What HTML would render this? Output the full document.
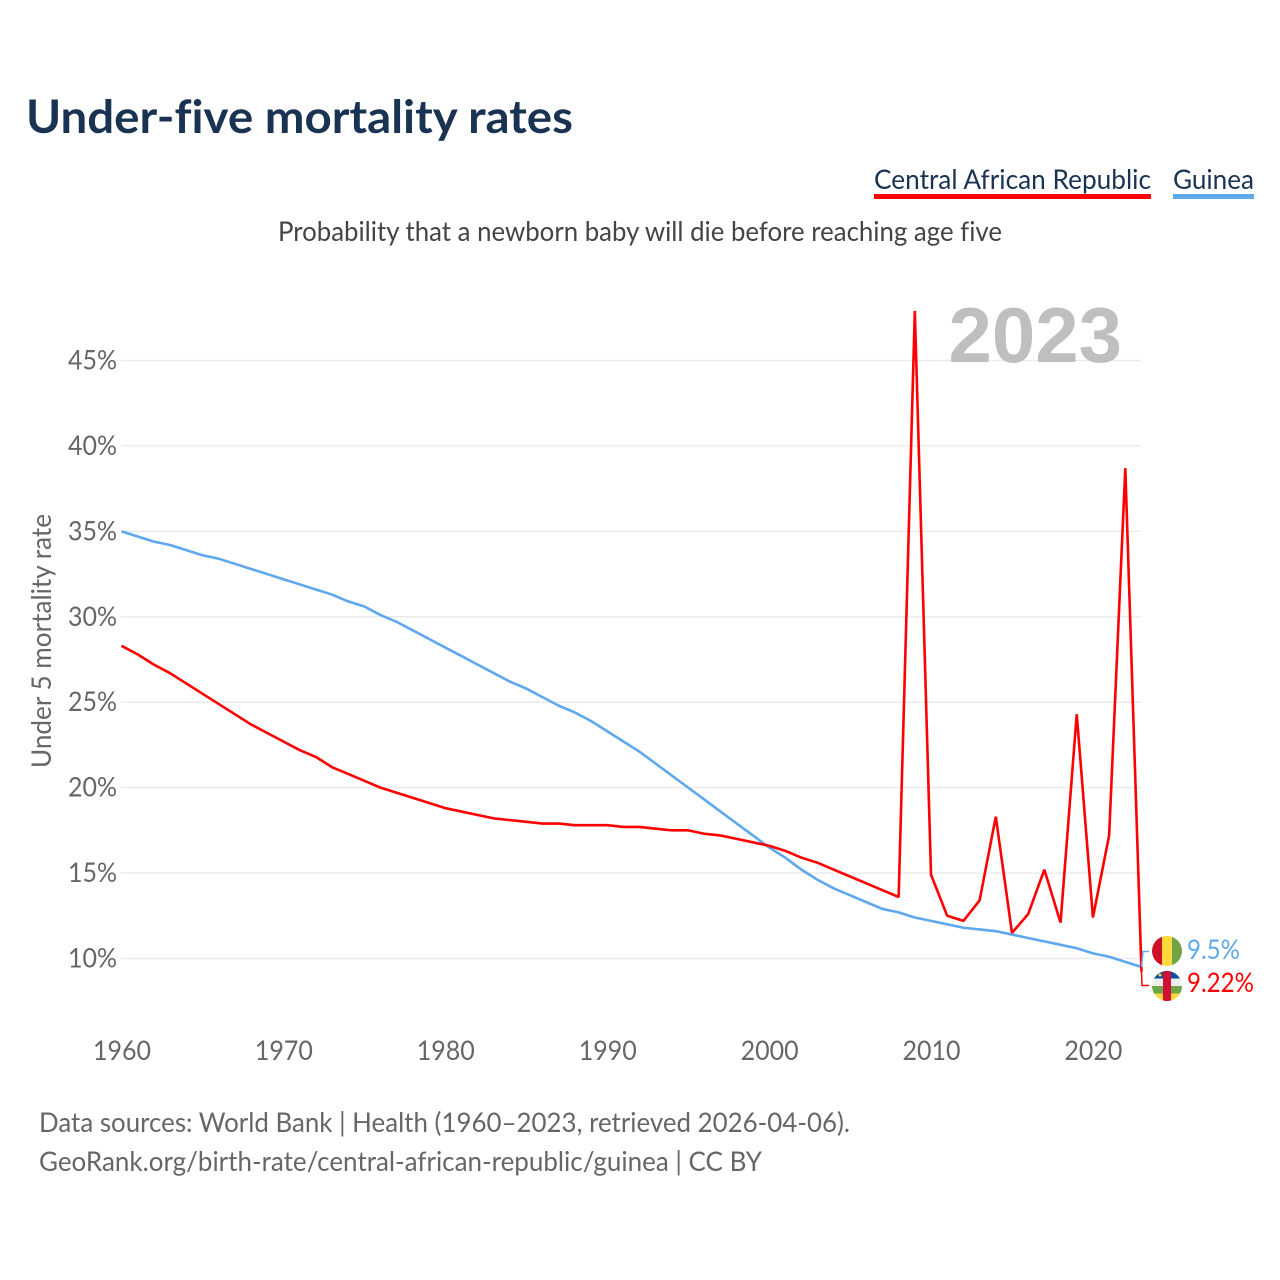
<!DOCTYPE html>
<html lang="en">
<head>
<meta charset="utf-8">
<title>Under-five mortality rates</title>
<style>
html,body{margin:0;padding:0;background:#fff;width:1280px;height:1280px;overflow:hidden}
svg{display:block;font-family:"Lato","Carlito","Liberation Sans",sans-serif;font-variant-ligatures:none;font-feature-settings:"liga" 0}
</style>
</head>
<body>
<svg id="chart" width="1280" height="1280" viewBox="0 0 1280 1280" xmlns="http://www.w3.org/2000/svg">
  <defs>
    <clipPath id="clip-gn"><circle cx="1167" cy="951" r="15"/></clipPath>
    <clipPath id="clip-cf"><circle cx="1167" cy="986" r="15"/></clipPath>
  </defs>
  <text x="26" y="133" font-size="46" font-weight="700" fill="#1a3353" textLength="547" lengthAdjust="spacingAndGlyphs">Under-five mortality rates</text>
  <g>
    <text x="874" y="189" font-size="27" fill="#1a3353" textLength="277" lengthAdjust="spacingAndGlyphs">Central African Republic</text>
    <rect x="874" y="194" width="277" height="5" fill="#ff0000"/>
  </g>
  <g>
    <text x="1173" y="189" font-size="27" fill="#1a3353" textLength="81" lengthAdjust="spacingAndGlyphs">Guinea</text>
    <rect x="1173" y="194" width="81" height="5" fill="#5fa8ee"/>
  </g>
  <text x="278" y="241" font-size="27" fill="#444" textLength="724" lengthAdjust="spacingAndGlyphs">Probability that a newborn baby will die before reaching age five</text>
  <g id="grid"></g>
  <g id="yticks"></g>
  <g id="xticks"></g>
  <text transform="translate(51,641) rotate(-90)" text-anchor="middle" font-size="27" fill="#666" textLength="254" lengthAdjust="spacingAndGlyphs">Under 5 mortality rate</text>
  <text x="1122" y="362" text-anchor="end" font-family="'Liberation Sans',sans-serif" font-size="78" font-weight="700" fill="#bfbfbf">2023</text>
  <g id="series"></g>
  <g id="connectors"></g>
  <g clip-path="url(#clip-gn)">
    <rect x="1152" y="936" width="10" height="30" fill="#ce1126"/>
    <rect x="1162" y="936" width="10" height="30" fill="#ffd83d"/>
    <rect x="1172" y="936" width="10" height="30" fill="#6fa544"/>
  </g>
  <g clip-path="url(#clip-cf)">
    <rect x="1152" y="971" width="30" height="7.5" fill="#0b4ea2"/>
    <rect x="1152" y="978.500" width="30" height="7.500" fill="#eeeeee"/>
    <rect x="1152" y="986" width="30" height="7.500" fill="#6fa544"/>
    <rect x="1152" y="993.500" width="30" height="7.500" fill="#ffd83d"/>
    <rect x="1163" y="971" width="8" height="30" fill="#d21034"/>
    <circle cx="1160" cy="975" r="1.500" fill="#ffd83d"/>
  </g>
  <text id="label-gn" x="1187" y="959" font-size="27" fill="#5fa8ee" textLength="53" lengthAdjust="spacingAndGlyphs"></text>
  <text id="label-cf" x="1187" y="992" font-size="27" fill="#ff0000" textLength="67" lengthAdjust="spacingAndGlyphs"></text>
  <text x="39" y="1132" font-size="27" fill="#666" textLength="811" lengthAdjust="spacingAndGlyphs">Data sources: World Bank | Health (1960–2023, retrieved 2026-04-06).</text>
  <text x="39" y="1171" font-size="27" fill="#666" textLength="723" lengthAdjust="spacingAndGlyphs">GeoRank.org/birth-rate/central-african-republic/guinea | CC BY</text>
</svg>
<script>
const years = [1960,1961,1962,1963,1964,1965,1966,1967,1968,1969,1970,1971,1972,1973,1974,1975,1976,1977,1978,1979,1980,1981,1982,1983,1984,1985,1986,1987,1988,1989,1990,1991,1992,1993,1994,1995,1996,1997,1998,1999,2000,2001,2002,2003,2004,2005,2006,2007,2008,2009,2010,2011,2012,2013,2014,2015,2016,2017,2018,2019,2020,2021,2022,2023];
const centralAfricanRepublic = [28.3,27.8,27.2,26.7,26.1,25.5,24.9,24.3,23.7,23.2,22.7,22.2,21.8,21.2,20.8,20.4,20.0,19.7,19.4,19.1,18.8,18.6,18.4,18.2,18.1,18.0,17.9,17.9,17.8,17.8,17.8,17.7,17.7,17.6,17.5,17.5,17.3,17.2,17.0,16.8,16.6,16.3,15.9,15.6,15.2,14.8,14.4,14.0,13.6,47.9,14.9,12.5,12.2,13.4,18.3,11.5,12.6,15.2,12.1,24.3,12.4,17.2,38.7,9.22];
const guinea = [35.0,34.7,34.4,34.2,33.9,33.6,33.4,33.1,32.8,32.5,32.2,31.9,31.6,31.3,30.9,30.6,30.1,29.7,29.2,28.7,28.2,27.7,27.2,26.7,26.2,25.8,25.3,24.8,24.4,23.9,23.3,22.7,22.1,21.4,20.7,20.0,19.3,18.6,17.9,17.2,16.5,15.9,15.2,14.6,14.1,13.7,13.3,12.9,12.7,12.4,12.2,12.0,11.8,11.7,11.6,11.4,11.2,11.0,10.8,10.6,10.3,10.1,9.8,9.5];
const yTicks = [10,15,20,25,30,35,40,45];
const xTicks = [1960,1970,1980,1990,2000,2010,2020];

const NS = 'http://www.w3.org/2000/svg';
const xScale = function (year) { return 121.5 + (year - 1960) * (1141.5 - 121.5) / 63; };
const yScale = function (value) { return 958.5 - (value - 10) * (958.5 - 360.5) / 35; };
const make = function (tag, attrs, parent, text) {
  const el = document.createElementNS(NS, tag);
  Object.keys(attrs).forEach(function (k) { el.setAttribute(k, attrs[k]); });
  if (text !== undefined) el.textContent = text;
  parent.appendChild(el);
  return el;
};

const grid = document.getElementById('grid');
const yG = document.getElementById('yticks');
const xG = document.getElementById('xticks');
yTicks.forEach(function (t) {
  const line = make('line', {x1: 121, x2: 1141, y1: yScale(t), y2: yScale(t), stroke: '#ebebeb', 'stroke-width': 1.5}, grid);
  
  
  const label = make('text', {x: 117, y: yScale(t) + 9, 'text-anchor': 'end', 'font-size': 27, fill: '#666', textLength: 49, lengthAdjust: 'spacingAndGlyphs'}, yG, t + '%');
  
  
});
xTicks.forEach(function (t) {
  const label = make('text', {x: xScale(t) + 0.5, y: 1060, 'text-anchor': 'middle', 'font-size': 27, fill: '#666', textLength: 58, lengthAdjust: 'spacingAndGlyphs'}, xG, String(t));
  
  
});

const pointsFor = function (values) {
  return values.map(function (v, i) { return xScale(years[i]).toFixed(2) + ',' + yScale(v).toFixed(2); }).join(' ');
};
const seriesG = document.getElementById('series');
const guineaLine = make('polyline', {points: pointsFor(guinea), fill: 'none', stroke: '#5fa8ee', 'stroke-width': 2.6, 'stroke-linejoin': 'bevel'}, seriesG);


const carLine = make('polyline', {points: pointsFor(centralAfricanRepublic), fill: 'none', stroke: '#ff0000', 'stroke-width': 2.6, 'stroke-linejoin': 'bevel'}, seriesG);



const conn = document.getElementById('connectors');
const lastX = xScale(years[years.length - 1]);
const connGn = make('polyline', {points: lastX + ',' + yScale(guinea[guinea.length - 1]) + ' ' + (lastX + 1.5) + ',951.5 1149,951.5', fill: 'none', stroke: '#5fa8ee', 'stroke-width': 1.5}, conn);


const connCf = make('polyline', {points: lastX + ',' + yScale(centralAfricanRepublic[centralAfricanRepublic.length - 1]) + ' ' + (lastX + 0.5) + ',985.5 1149,985.5', fill: 'none', stroke: '#ff0000', 'stroke-width': 1.5}, conn);



document.getElementById('label-gn').textContent = guinea[guinea.length - 1] + '%';
document.getElementById('label-cf').textContent = centralAfricanRepublic[centralAfricanRepublic.length - 1] + '%';
</script>
</body>
</html>
